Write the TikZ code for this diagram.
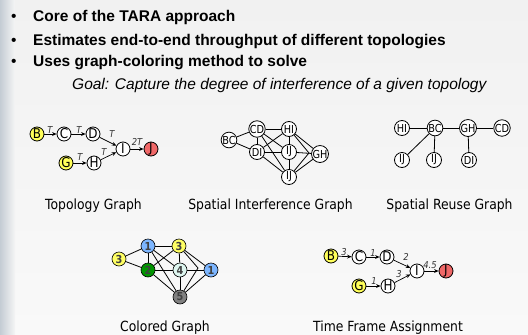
\documentclass[tikz,border=0pt]{standalone}
\usepackage{fontspec}
\setmainfont{Liberation Sans}
\newfontfamily\capfont[FakeStretch=0.885]{DejaVu Sans}
\usetikzlibrary{arrows.meta}
\definecolor{bgtop}{RGB}{241,241,241}
\definecolor{bgbot}{RGB}{249,249,249}
\definecolor{band}{RGB}{196,204,212}
\definecolor{nyellow}{RGB}{255,255,90}
\definecolor{nred}{RGB}{240,104,104}
\definecolor{cblue}{RGB}{125,182,255}
\definecolor{cyellow}{RGB}{255,255,100}
\definecolor{cgreen}{RGB}{0,150,0}
\definecolor{clight}{RGB}{222,246,240}
\definecolor{cgray}{RGB}{128,128,128}
\begin{document}
\begin{tikzpicture}[x=1pt,y=-1pt,
  tnode/.style={circle,draw,line width=0.8pt,minimum size=14pt,inner sep=0pt,fill=white,
    font=\capfont\fontsize{13.5}{13.5}\selectfont},
  inode/.style={circle,draw,line width=0.8pt,minimum size=15pt,inner sep=0pt,fill=white,
    font=\capfont\fontsize{11}{11}\selectfont},
  cnode/.style={circle,draw,line width=0.6pt,minimum size=14pt,inner sep=0pt,
    font=\capfont\bfseries\fontsize{11}{11}\selectfont,text=black!75},
  arr/.style={-{Stealth[length=4.5pt,width=3.8pt]},line width=0.7pt},
  elab/.style={font=\capfont\itshape\fontsize{9.5}{9.5}\selectfont,text=black!80,inner sep=0pt},
  gedge/.style={line width=0.8pt},
  bul/.style={anchor=base west,inner sep=0pt,font=\fontsize{15.5}{18}\selectfont},
  btext/.style={anchor=base west,inner sep=0pt,font=\bfseries\fontsize{15.5}{18}\selectfont},
  captxt/.style={anchor=base,inner sep=0pt,font=\capfont\fontsize{14}{14}\selectfont}
]
\useasboundingbox (0,0) rectangle (528,335);
\shade[top color=bgtop,bottom color=bgbot] (0,0) rectangle (528,335);
\shade[left color=band,right color=bgtop!50!bgbot] (0,0) rectangle (15,335);

% bullets
\node[bul] (d1) at (11,21.7) {•};
\node[bul] (d2) at (11,45.7) {•};
\node[bul] (d3) at (11,66.7) {•};
\node[btext] (t1) at (33,21.7) {Core of the TARA approach};
\node[btext] (t2) at (33,45.7) {Estimates end-to-end throughput of different topologies};
\node[btext] (t3) at (33,66.7) {Uses graph-coloring method to solve};
\node[anchor=base west,inner sep=0pt,font=\itshape\fontsize{15.5}{18}\selectfont] (goal) at (72,89.5)
  {Goal: Capture the degree of interference of a given topology};

% topology graph
\node[tnode,fill=nyellow] (B) at (37,134) {B};
\node[tnode] (C) at (64,134) {C};
\node[tnode] (D) at (93,134) {D};
\node[tnode] (I) at (123,149) {I};
\node[tnode,fill=nred] (J) at (151,149) {J};
\node[tnode,fill=nyellow] (G) at (66,163) {G};
\node[tnode] (H) at (94,163) {H};
\draw[arr] (B) -- (C);
\draw[arr] (C) -- (D);
\draw[arr] (D) -- (I);
\draw[arr] (I) -- (J);
\draw[arr] (G) -- (H);
\draw[arr] (H) -- (I);
\node[elab] (lbc) at (50,130) {T};
\node[elab] (lcd) at (79,130) {T};
\node[elab] (ldi) at (112,134) {T};
\node[elab] (lij) at (137,142) {2T};
\node[elab] (lgh) at (80,157) {T};
\node[elab] (lhi) at (104,152) {T};

% spatial interference graph
\node[inode] (iBC) at (229,140) {BC};
\node[inode] (iCD) at (257,129) {CD};
\node[inode] (iHI) at (289,129) {HI};
\node[inode] (iDI) at (257,152) {DI};
\node[inode] (iIJ) at (289,152) {IJ};
\node[inode] (iGH) at (320,154) {GH};
\node[inode] (iIJb) at (289,177) {IJ};
\coordinate (ibend) at (309,153);
\draw[gedge] (iBC) -- (iCD);
\draw[gedge] (iBC) -- (iDI);
\draw[gedge] (iCD) -- (iHI);
\draw[gedge] (iCD) -- (iDI);
\draw[gedge] (iCD) -- (iIJ);
\draw[gedge] (iCD) -- (iIJb);
\draw[gedge] (iHI) -- (iDI);
\draw[gedge] (iHI) -- (iIJ);
\draw[gedge] (iHI) -- (iGH);
\draw[gedge] (iHI) -- (ibend) -- (iIJb);
\draw[gedge] (iDI) -- (iIJ);
\draw[gedge] (iDI) -- (iIJb);
\draw[gedge] (iIJ) -- (iGH);
\draw[gedge] (iIJ) -- (iIJb);
\draw[gedge] (iGH) -- (iIJb);

% spatial reuse graph
\node[inode] (rHI) at (402,128) {HI};
\node[inode] (rBC) at (435,128) {BC};
\node[inode] (rGH) at (468,128) {GH};
\node[inode] (rCD) at (502,128) {CD};
\node[inode] (rIJa) at (402,160) {IJ};
\node[inode] (rIJb) at (434,160) {IJ};
\node[inode] (rDI) at (469,160) {DI};
\draw[gedge] (rHI) -- (rBC);
\draw[gedge] (rBC) -- (rGH);
\draw[gedge] (rGH) -- (rCD);
\draw[gedge] (rBC) -- (rIJa);
\draw[gedge] (rBC) -- (rIJb);
\draw[gedge] (rGH) -- (rDI);

% captions row 1
\node[captxt] (cap1) at (93.5,209) {Topology Graph};
\node[captxt] (cap2) at (270.5,209) {Spatial Interference Graph};
\node[captxt] (cap3) at (449.5,209) {Spatial Reuse Graph};

% colored graph
\node[cnode,fill=cyellow] (c3a) at (119,259) {3};
\node[cnode,fill=cblue] (c1a) at (148,246) {1};
\node[cnode,fill=cyellow] (c3b) at (179,246) {3};
\node[cnode,fill=cgreen] (c2) at (148,270) {2};
\node[cnode,fill=clight] (c4) at (180,270) {4};
\node[cnode,fill=cblue] (c1b) at (211,270) {1};
\node[cnode,fill=cgray] (c5) at (180,297) {5};
\coordinate (cbend) at (198,268);
\draw[gedge] (c3a) -- (c1a);
\draw[gedge] (c3a) -- (c2);
\draw[gedge] (c1a) -- (c3b);
\draw[gedge] (c1a) -- (c2);
\draw[gedge] (c1a) -- (c4);
\draw[gedge] (c1a) -- (c5);
\draw[gedge] (c3b) -- (c2);
\draw[gedge] (c3b) -- (c4);
\draw[gedge] (c3b) -- (c1b);
\draw[gedge] (c3b) -- (cbend) -- (c5);
\draw[gedge] (c2) -- (c4);
\draw[gedge] (c2) -- (c5);
\draw[gedge] (c4) -- (c1b);
\draw[gedge] (c4) -- (c5);
\draw[gedge] (c1b) -- (c5);

% time frame assignment
\node[tnode,fill=nyellow] (fB) at (331,256) {B};
\node[tnode] (fC) at (359,257) {C};
\node[tnode] (fD) at (387,257) {D};
\node[tnode] (fI) at (417,271) {I};
\node[tnode,fill=nred] (fJ) at (446,271) {J};
\node[tnode,fill=nyellow] (fG) at (359,286) {G};
\node[tnode] (fH) at (388,286) {H};
\draw[arr] (fB) -- (fC);
\draw[arr] (fC) -- (fD);
\draw[arr] (fD) -- (fI);
\draw[arr] (fI) -- (fJ);
\draw[arr] (fG) -- (fH);
\draw[arr] (fH) -- (fI);
\node[elab] (f3a) at (344,252) {3};
\node[elab] (f1a) at (373,253) {1};
\node[elab] (f2) at (406,257) {2};
\node[elab] (f45) at (430,265) {4.5};
\node[elab] (f1b) at (374,281) {1};
\node[elab] (f3b) at (399,274) {3};

% captions row 2
\node[captxt] (cap4) at (165,331) {Colored Graph};
\node[captxt] (cap5) at (388,331) {Time Frame Assignment};
\end{tikzpicture}
\end{document}
